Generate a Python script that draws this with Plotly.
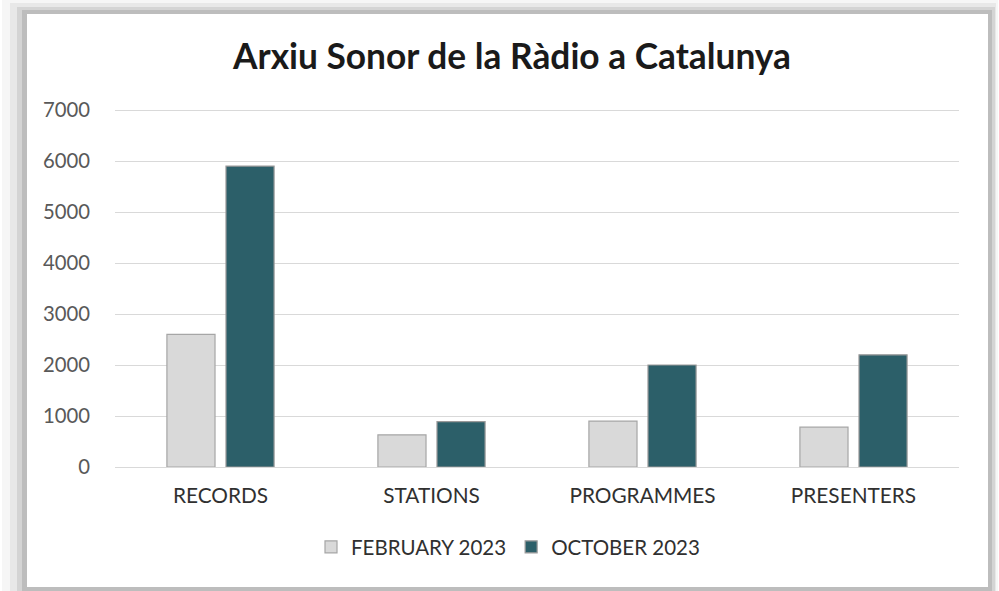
import plotly.graph_objects as go

categories = ["RECORDS", "STATIONS", "PROGRAMMES", "PRESENTERS"]
feb_2023 = [2600, 630, 900, 780]
oct_2023 = [5900, 890, 2000, 2200]
series_names = ["FEBRUARY 2023", "OCTOBER 2023"]
y_ticks = [0, 1000, 2000, 3000, 4000, 5000, 6000, 7000]

W, H = 999, 591
L, R, T, B = 115, 40, 109, 124
PW, PH = W - L - R, H - T - B

def px(x):
    return (x - L) / PW

def py(y):
    return 1 - (y - T) / PH

FONT = "Lato"

fig = go.Figure()
fig.add_trace(go.Bar(
    x=categories, y=feb_2023, name=series_names[0],
    marker=dict(color="#d9d9d9", line=dict(color="#a6a6a6", width=1.2)),
))
fig.add_trace(go.Bar(
    x=categories, y=oct_2023, name=series_names[1],
    marker=dict(color="#2c5f69", line=dict(color="#9a9a9a", width=1.2)),
))

shapes = []
frames = [
    (2, 0, 998, 591, "#f6f6f6"),
    (10, 3, 996, 591, "#e8e8e8"),
    (17, 7, 995, 591, "#d4d4d4"),
    (22, 10, 992, 591, "#bdbdbd"),
    (27, 14, 988, 587, "#ffffff"),
]
for x0, y0, x1, y1, c in frames:
    shapes.append(dict(type="rect", xref="paper", yref="paper",
                       x0=px(x0), x1=px(x1), y0=py(y1), y1=py(y0),
                       fillcolor=c, line=dict(width=0), layer="below"))

fig.update_layout(
    width=W, height=H,
    margin=dict(l=L, r=R, t=T, b=B, pad=0),
    paper_bgcolor="#ffffff",
    plot_bgcolor="rgba(0,0,0,0)",
    shapes=shapes,
    barmode="group",
    bargap=0.44,
    bargroupgap=0.186,
    title=dict(text="<b>Arxiu Sonor de la Ràdio a Catalunya</b>",
               x=px(512), xref="paper", xanchor="center",
               y=1 - 57 / H, yanchor="middle",
               font=dict(family=FONT, size=35.3, color="#1a1a1a")),
    font=dict(family=FONT, color="#595959"),
    xaxis=dict(showgrid=False, showline=False, ticks="",
               tickfont=dict(family=FONT, size=20.8, color="#303030"),
               ticklabelstandoff=14),
    yaxis=dict(range=[0, 7020], tickvals=y_ticks, showgrid=True,
               gridcolor="#d9d9d9", gridwidth=1.2, zeroline=True,
               zerolinecolor="#d9d9d9", zerolinewidth=1.2,
               showline=False, ticks="",
               tickfont=dict(family=FONT, size=20.3, color="#595959"),
               ticklabelstandoff=24),
    legend=dict(orientation="h", x=px(508), xanchor="center",
                y=py(547), yanchor="middle",
                font=dict(family=FONT, size=20.5, color="#303030"),
                itemwidth=30, traceorder="normal"),
)

fig.write_html("out.html", config={"displayModeBar": False},
               post_script="document.body.style.margin='0';")
